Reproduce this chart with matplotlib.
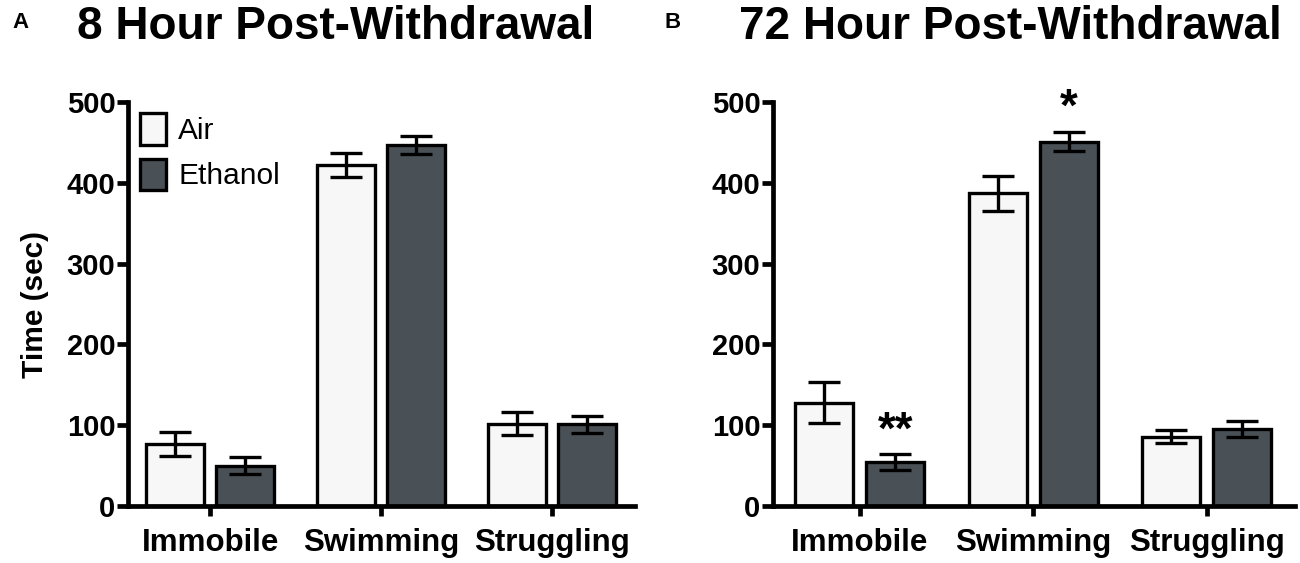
import matplotlib
matplotlib.use("Agg")
import matplotlib.pyplot as plt
from matplotlib.patches import Patch
import numpy as np

categories = ["Immobile", "Swimming", "Struggling"]
series = ["Air", "Ethanol"]
titles = ["8 Hour Post-Withdrawal", "72 Hour Post-Withdrawal"]
panel_letters = ["A", "B"]

air_8h = [77, 422, 102]
air_8h_err = [15, 15, 14]
eth_8h = [50, 447, 101]
eth_8h_err = [11, 11, 11]

air_72h = [128, 387, 86]
air_72h_err = [25, 22, 8]
eth_72h = [54, 451, 95]
eth_72h_err = [10, 12, 10]

# significance marks on ethanol bars (72 h)
sig_72h = ["**", "*", ""]

yticks = [0, 100, 200, 300, 400, 500]

FONT = ["Liberation Sans", "DejaVu Sans"]
air_color = "#f7f7f7"
eth_color = "#4a5156"

W, H = 1300, 563
fig = plt.figure(figsize=(13, 5.63), dpi=100)
y0, y1 = 506, 102
ax1 = fig.add_axes([128/W, 1-y0/H, (635-128)/W, (y0-y1)/H])
ax2 = fig.add_axes([773/W, 1-y0/H, (1295-773)/W, (y0-y1)/H])

panels = [
    (ax1, air_8h, air_8h_err, eth_8h, eth_8h_err, None, (-0.48, 2.485), 336),
    (ax2, air_72h, air_72h_err, eth_72h, eth_72h_err, sig_72h, (-0.5, 2.51), 1010),
]

width = 0.335
off = 0.205
lw = 2.4
for i, (ax, a, ae, e, ee, sig, xl, tx) in enumerate(panels):
    x = np.arange(len(categories))
    ax.bar(x - off, a, width, color=air_color, edgecolor="black", linewidth=lw, zorder=2, label=series[0])
    ax.bar(x + off, e, width, color=eth_color, edgecolor="black", linewidth=lw, zorder=2, label=series[1])
    ax.errorbar(x - off, a, yerr=ae, fmt="none", ecolor="black", elinewidth=lw, capsize=11.5, capthick=lw, zorder=3)
    ax.errorbar(x + off, e, yerr=ee, fmt="none", ecolor="black", elinewidth=lw, capsize=11.5, capthick=lw, zorder=3)
    if sig is not None:
        for xi, val, err, s in zip(x + off, e, ee, sig):
            if s:
                ax.text(xi, val + err + 1, s, ha="center", va="bottom", fontsize=33,
                        fontweight="bold", family=FONT)
    ax.set_xlim(*xl)
    ax.set_ylim(0, 500)
    ax.set_yticks(yticks)
    ax.set_yticklabels([str(t) for t in yticks], family=FONT, fontweight="bold", fontsize=21)
    ax.set_xticks(x)
    ax.set_xticklabels(categories, family=FONT, fontweight="bold", fontsize=22.5)
    ax.spines["top"].set_visible(False)
    ax.spines["right"].set_visible(False)
    ax.spines["left"].set_linewidth(3.4)
    ax.spines["bottom"].set_linewidth(3.4)
    ax.tick_params(axis="y", direction="out", length=8, width=3.4, pad=1)
    ax.tick_params(axis="x", direction="out", length=7, width=3.4, pad=9)
    fig.text(tx/W, 1-27/H, titles[i], family=FONT, fontweight="bold", fontsize=33,
             ha="center", va="center")

ax1.set_ylabel("Time (sec)", family=FONT, fontweight="bold", fontsize=21.5, labelpad=13)

handles = [Patch(facecolor=air_color, edgecolor="black", linewidth=lw),
           Patch(facecolor=eth_color, edgecolor="black", linewidth=lw)]
leg = ax1.legend(handles, series, loc="upper left", bbox_to_anchor=(0.024, 0.972), frameon=False,
                 borderpad=0, borderaxespad=0,
                 handlelength=0.85, handleheight=1.25, handletextpad=0.42, labelspacing=0.45,
                 prop={"family": FONT, "size": 21.5})

fig.text(12/W, 1-22/H, panel_letters[0], family=FONT, fontweight="bold", fontsize=16, va="center", ha="left")
fig.text(665/W, 1-22/H, panel_letters[1], family=FONT, fontweight="bold", fontsize=16, va="center", ha="left")

fig.savefig("out.png", dpi=100)
